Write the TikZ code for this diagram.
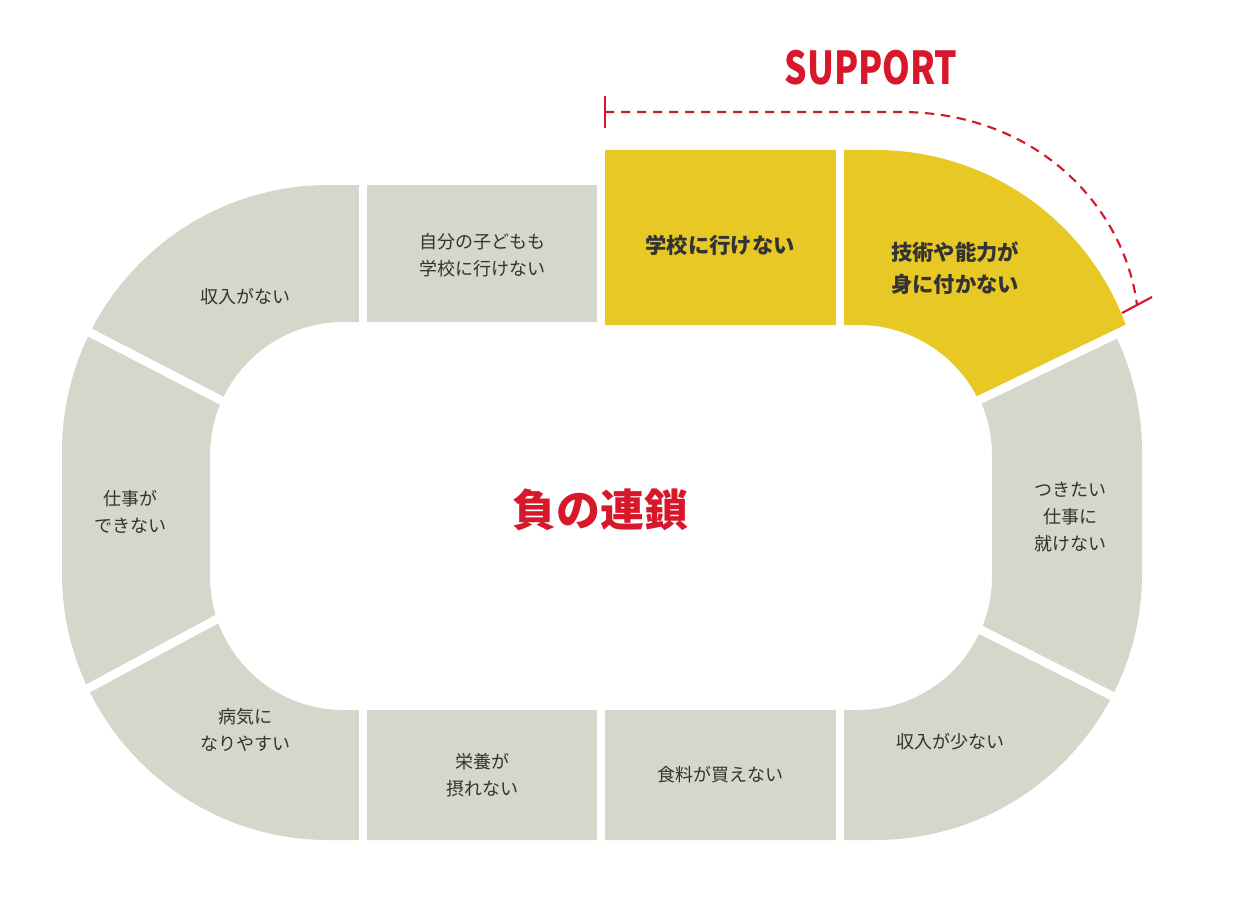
\documentclass[tikz,border=0pt]{standalone}
\usepackage{fontspec}
\newfontfamily\jp{Noto Sans CJK JP}
\definecolor{trk}{HTML}{D4D7C9}
\definecolor{yel}{HTML}{E8C824}
\definecolor{rd}{HTML}{D7182A}
\definecolor{tx}{HTML}{333333}
\tikzset{lab/.style={font=\jp\fontsize{13.5}{20}\selectfont,text=tx,align=center},
 blab/.style={font=\jp\bfseries\fontsize{16}{24}\selectfont,text=tx,align=center},
 sep/.style={white,line width=6.5pt}}
\begin{document}
\begin{tikzpicture}[x=0.75pt,y=-0.75pt]
\useasboundingbox (0,0) rectangle (1234,920);
\fill[white] (0,0) rectangle (1234,920);
% gray track
\fill[trk,even odd rule] [rounded corners=200pt] (62,185) rectangle (1142,840)
  [rounded corners=100pt] (210,322) rectangle (992,710);
% yellow
\begin{scope}
\clip (605,90) -- (1250,90) -- (1250,270) -- (975,402) -- (800,485) -- (605,485) -- cycle;
\fill[yel,even odd rule] [rounded corners=200pt] (62,150) rectangle (1142,840)
  [rounded corners=100pt] (210,325) rectangle (992,710);
\end{scope}
% separators
\draw[sep] (363,140) -- (363,340);
\draw[sep] (601,140) -- (601,340);
\draw[sep] (840,140) -- (840,340);
\draw[sep] (363,690) -- (363,860);
\draw[sep] (601,690) -- (601,860);
\draw[sep] (840,690) -- (840,860);
\draw[sep] (950,414) -- (1135,325);
\draw[sep] (965,622) -- (1120,700);
\draw[sep] (230,405) -- (85,330);
\draw[sep] (230,612) -- (85,690);
% texts
\node[lab] (n1) at (482,255) {自分の子どもも\\学校に行けない};
\node[blab] (n2) at (720,245) {学校に行けない};
\node[blab] (n3) at (955,268) {技術や能力が\\身に付かない};
\node[lab] (n4) at (1070,517) {つきたい\\仕事に\\就けない};
\node[lab] (n5) at (950,742) {収入が少ない};
\node[lab] (n6) at (720,775) {食料が買えない};
\node[lab] (n7) at (482,775) {栄養が\\摂れない};
\node[lab] (n8) at (245,730) {病気に\\なりやすい};
\node[lab] (n9) at (130,512) {仕事が\\できない};
\node[lab] (n10) at (245,297) {収入がない};
\node[font=\jp\bfseries\fontsize{33}{40}\selectfont,text=rd] (c) at (600,510) {負の連鎖};
\node[font=\jp\bfseries\fontsize{34}{40}\selectfont,text=rd,xscale=0.78] (s) at (871,68) {SUPPORT};
% support bracket
\coordinate (a0) at (605,112);
\coordinate (a1) at (900,112);
\coordinate (a2) at (1137,305);
\draw[rd,line width=1.6pt] (605,96) -- (605,128);
\draw[rd,line width=1.6pt,dash pattern=on 7pt off 5pt] (a0) -- (a1) .. controls (1040,112) and (1125,210) .. (a2);
\draw[rd,line width=1.6pt] (1122,313) -- (1152,297);
\end{tikzpicture}
\end{document}
